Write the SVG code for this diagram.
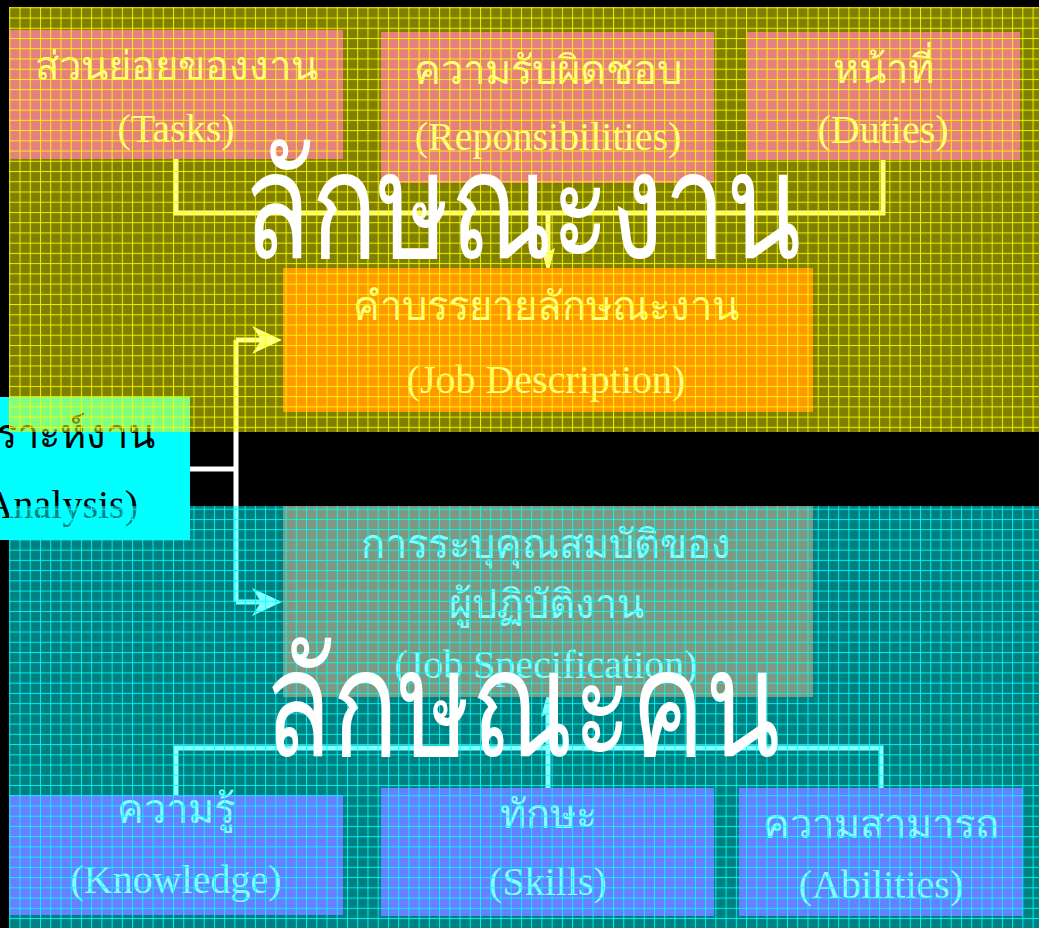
<svg xmlns="http://www.w3.org/2000/svg" width="1039" height="928" viewBox="0 0 1039 928">
<style>
.box{fill:#cc00ff}
.job{fill:#ff3300}
.t{font-family:"Liberation Serif","DejaVu Serif",serif;font-size:40px;fill:#ffffff;text-anchor:middle}
.dk{font-family:"Liberation Serif","DejaVu Serif",serif;font-size:40px;fill:#000000;text-anchor:end}
.big{font-family:"Liberation Serif","DejaVu Serif",serif;font-size:110px;fill:#ffffff;text-anchor:middle}
.ln{fill:none;stroke:#ffffff;stroke-width:5}
</style>
<defs>
<pattern id="gy" patternUnits="userSpaceOnUse" x="9.3" y="7.3" width="10.233" height="10.233">
<rect x="0" y="0" width="10.233" height="10.233" fill="#ffff00" fill-opacity="0.5"/>
<rect x="0" y="0" width="10.233" height="1" fill="#ffff00" fill-opacity="0.85"/>
<rect x="0" y="0" width="1" height="10.233" fill="#ffff00" fill-opacity="0.85"/>
</pattern>
<pattern id="gc" patternUnits="userSpaceOnUse" x="9.3" y="7.3" width="10.233" height="10.233">
<rect x="0" y="0" width="10.233" height="10.233" fill="#00ffff" fill-opacity="0.5"/>
<rect x="0" y="0" width="10.233" height="1" fill="#00ffff" fill-opacity="0.85"/>
<rect x="0" y="0" width="1" height="10.233" fill="#00ffff" fill-opacity="0.85"/>
</pattern>
<marker id="ah" viewBox="0 0 30 28" refX="20" refY="14" markerWidth="30" markerHeight="28" markerUnits="userSpaceOnUse" orient="auto">
<path d="M0,0 L30,14 L0,28 L9,14 Z" fill="#ffffff"/>
</marker>
<marker id="an" viewBox="0 0 26 14" refX="10" refY="7" markerWidth="26" markerHeight="14" markerUnits="userSpaceOnUse" orient="auto">
<path d="M0,0 L26,7 L0,14 L4,7 Z" fill="#ffffff"/>
</marker>
</defs>
<rect x="0" y="0" width="1039" height="928" fill="#000000"/>
<g id="connectors">
<path class="ln" d="M176,158 V213 H883 V160"/>
<path class="ln" d="M548,213 V258" marker-end="url(#an)"/>
<path class="ln" d="M190,469 H236"/>
<path class="ln" d="M236,340 V602"/>
<path class="ln" d="M236,340 H272" marker-end="url(#ah)"/>
<path class="ln" d="M236,602 H272" marker-end="url(#ah)"/>
<path class="ln" d="M176,795 V748 H881 V788"/>
<path class="ln" d="M548,788 V707" marker-end="url(#an)"/>
</g>
<g id="tasks">
<rect class="box" x="9" y="30" width="334" height="129"/>
<text class="t" x="176" y="80">ส่วนย่อยของงาน</text>
<text class="t" x="176" y="142">(Tasks)</text>
</g>
<g id="responsibilities">
<rect class="box" x="381" y="32" width="333" height="151"/>
<text class="t" x="548" y="84">ความรับผิดชอบ</text>
<text class="t" x="548" y="150">(Reponsibilities)</text>
</g>
<g id="duties">
<rect class="box" x="747" y="32" width="273" height="128"/>
<text class="t" x="883" y="83">หน้าที่</text>
<text class="t" x="883" y="143">(Duties)</text>
</g>
<g id="job-description">
<rect class="job" x="283" y="268" width="530" height="144"/>
<text class="t" x="546" y="320">คำบรรยายลักษณะงาน</text>
<text class="t" x="546" y="393">(Job Description)</text>
</g>
<g id="job-specification">
<rect class="job" x="283" y="506" width="530" height="191"/>
<text class="t" x="546" y="558">การระบุคุณสมบัติของ</text>
<text class="t" x="546" y="618">ผู้ปฏิบัติงาน</text>
<text class="t" x="546" y="678">(Job Specification)</text>
</g>
<g id="job-analysis">
<rect x="0" y="397" width="190" height="143" fill="#00ffff"/>
<text class="dk" x="155" y="448">วิเคราะห์งาน</text>
<text class="dk" x="138" y="518">(Job Analysis)</text>
</g>
<g id="knowledge">
<rect class="box" x="9" y="795" width="334" height="120"/>
<text class="t" x="176" y="823">ความรู้</text>
<text class="t" x="176" y="893">(Knowledge)</text>
</g>
<g id="skills">
<rect class="box" x="381" y="788" width="333" height="128"/>
<text class="t" x="548" y="828">ทักษะ</text>
<text class="t" x="548" y="895">(Skills)</text>
</g>
<g id="abilities">
<rect class="box" x="739" y="788" width="284" height="128"/>
<text class="t" x="881" y="838">ความสามารถ</text>
<text class="t" x="881" y="898">(Abilities)</text>
</g>
<g id="panels">
<rect x="9" y="7" width="1030" height="425" fill="url(#gy)"/>
<rect x="9" y="506" width="1030" height="422" fill="url(#gc)"/>
</g>
<g id="titles">
<text class="big" transform="translate(522,258) scale(1,1.35)" x="0" y="0">ลักษณะงาน</text>
<text class="big" transform="translate(522,756) scale(1,1.35)" x="0" y="0">ลักษณะคน</text>
</g>
</svg>
